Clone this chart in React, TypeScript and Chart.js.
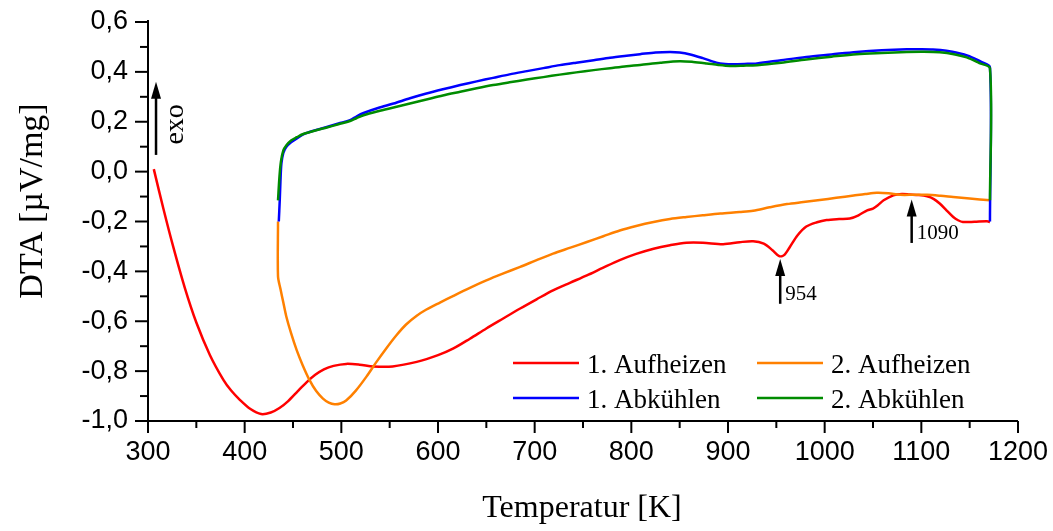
import React, { useEffect, useRef } from "react";
import { Chart, registerables } from "chart.js";

Chart.register(...registerables);

// ---- Data ----
const aufheizen1T = [306, 316, 326, 338, 350, 364, 378, 386, 395, 406, 417, 427, 436, 445, 455, 464, 473, 482, 492, 505, 519, 533, 553, 578, 600, 616, 633, 650, 667, 685, 702, 719, 737, 754, 771, 788, 805, 823, 840, 857, 874, 895, 912, 926, 937, 946, 953, 958, 964, 972, 981, 992, 1002, 1015, 1026, 1035, 1044, 1050, 1055, 1061, 1071, 1080, 1088, 1097, 1106, 1113, 1119, 1126, 1133, 1138, 1143, 1155, 1168, 1171];
const aufheizen1DTA = [0.01, -0.15, -0.30, -0.465, -0.605, -0.735, -0.835, -0.878, -0.915, -0.952, -0.972, -0.966, -0.948, -0.92, -0.88, -0.845, -0.815, -0.793, -0.779, -0.771, -0.774, -0.781, -0.781, -0.763, -0.736, -0.709, -0.67, -0.629, -0.59, -0.549, -0.512, -0.476, -0.445, -0.416, -0.385, -0.355, -0.33, -0.309, -0.295, -0.285, -0.285, -0.291, -0.283, -0.279, -0.289, -0.315, -0.339, -0.335, -0.302, -0.255, -0.22, -0.203, -0.194, -0.19, -0.188, -0.175, -0.155, -0.148, -0.135, -0.115, -0.095, -0.09, -0.092, -0.094, -0.099, -0.11, -0.128, -0.155, -0.182, -0.195, -0.202, -0.201, -0.199, -0.202];

const aufheizen2T = [434.5, 434.5, 437, 440, 443, 448, 454, 460, 467, 474, 481, 487, 493, 499, 505, 515, 526, 536, 547, 557, 567, 578, 588, 602, 616, 633, 650, 667, 685, 702, 719, 737, 754, 771, 788, 805, 823, 840, 857, 874, 892, 912, 926, 943, 961, 978, 995, 1012, 1030, 1042, 1054, 1066, 1078, 1092, 1106, 1120, 1133, 1150, 1171];
const aufheizen2DTA = [-0.2, -0.42, -0.47, -0.525, -0.58, -0.648, -0.718, -0.776, -0.835, -0.88, -0.91, -0.926, -0.933, -0.93, -0.918, -0.878, -0.822, -0.765, -0.706, -0.656, -0.613, -0.578, -0.553, -0.525, -0.498, -0.466, -0.436, -0.409, -0.382, -0.355, -0.329, -0.305, -0.282, -0.259, -0.236, -0.218, -0.202, -0.19, -0.182, -0.175, -0.168, -0.162, -0.157, -0.143, -0.13, -0.122, -0.114, -0.105, -0.096, -0.09, -0.085, -0.087, -0.093, -0.093, -0.093, -0.097, -0.102, -0.108, -0.115];

const abkuehlen1T = [1171, 1171, 1162, 1157, 1148, 1140, 1126, 1112, 1098, 1085, 1059, 1033, 1007, 981, 955, 930, 917, 905, 897, 888, 874, 861, 850, 840, 825, 809, 795, 778, 761, 743, 726, 709, 692, 674, 657, 640, 623, 605, 588, 571, 554, 538, 523, 516, 509, 497, 485, 476, 467, 460, 454, 448, 443, 440, 438, 437, 436.3, 435.3];
const abkuehlen1DTA = [-0.2, 0.418, 0.44, 0.45, 0.465, 0.474, 0.485, 0.49, 0.491, 0.491, 0.487, 0.48, 0.47, 0.46, 0.447, 0.434, 0.432, 0.431, 0.432, 0.437, 0.455, 0.47, 0.478, 0.48, 0.478, 0.471, 0.465, 0.457, 0.447, 0.437, 0.427, 0.415, 0.403, 0.39, 0.376, 0.362, 0.347, 0.33, 0.313, 0.294, 0.273, 0.255, 0.235, 0.222, 0.206, 0.193, 0.179, 0.169, 0.159, 0.148, 0.133, 0.118, 0.099, 0.075, 0.032, -0.04, -0.115, -0.2];

const abkuehlen2T = [1171, 1171, 1160, 1147, 1135, 1119, 1102, 1085, 1059, 1033, 1007, 981, 955, 930, 916, 902, 890, 878, 864, 850, 830, 809, 795, 778, 761, 743, 726, 709, 692, 674, 657, 640, 623, 605, 588, 571, 554, 538, 523, 516, 509, 497, 485, 476, 467, 460, 454, 448, 443, 440, 437.5, 436, 434.5];
const abkuehlen2DTA = [-0.115, 0.414, 0.435, 0.458, 0.47, 0.479, 0.481, 0.48, 0.476, 0.471, 0.461, 0.45, 0.437, 0.427, 0.425, 0.424, 0.428, 0.434, 0.44, 0.443, 0.437, 0.428, 0.423, 0.415, 0.407, 0.398, 0.389, 0.379, 0.369, 0.358, 0.347, 0.334, 0.32, 0.305, 0.289, 0.273, 0.257, 0.242, 0.226, 0.215, 0.203, 0.19, 0.177, 0.168, 0.158, 0.15, 0.138, 0.125, 0.105, 0.085, 0.04, -0.02, -0.115];

const seriesLabels = ["1. Aufheizen", "2. Aufheizen", "1. Abkühlen", "2. Abkühlen"];
const seriesColors = ["#ff0000", "#ff8000", "#0000ff", "#008c00"];

const xTicks = [300, 400, 500, 600, 700, 800, 900, 1000, 1100, 1200];
const xMinorTicks = [350, 450, 550, 650, 750, 850, 950, 1050, 1150];
const yTicks = [-1.0, -0.8, -0.6, -0.4, -0.2, 0.0, 0.2, 0.4, 0.6];
const yMinorTicks = [-0.9, -0.7, -0.5, -0.3, -0.1, 0.1, 0.3, 0.5];

const xTitle = "Temperatur [K]";
const yTitle = "DTA [µV/mg]";

// peak markers (arrow at temperature, from tail value up to tip value)
const peakT = [954, 1090];
const peakLabels = ["954", "1090"];
const peakTipDTA = [-0.35, -0.112];
const peakTailDTA = [-0.53, -0.286];

// exo arrow
const exoT = 308.3;
const exoTipDTA = 0.36;
const exoTailDTA = 0.067;
const exoLabel = "exo";

const toPoints = (xs: number[], ys: number[]) => xs.map((x, i) => ({ x, y: ys[i] }));

function drawArrow(ctx: CanvasRenderingContext2D, x: number, yTail: number, yTip: number) {
  const headLen = 17;
  const headHalf = 5;
  ctx.save();
  ctx.strokeStyle = "#000";
  ctx.fillStyle = "#000";
  ctx.lineWidth = 2.5;
  ctx.beginPath();
  ctx.moveTo(x, yTail);
  ctx.lineTo(x, yTip + headLen - 2);
  ctx.stroke();
  ctx.beginPath();
  ctx.moveTo(x, yTip);
  ctx.lineTo(x - headHalf, yTip + headLen);
  ctx.lineTo(x + headHalf, yTip + headLen);
  ctx.closePath();
  ctx.fill();
  ctx.restore();
}

const decorPlugin = {
  id: "decor",
  afterDraw(chart: any) {
    const ctx: CanvasRenderingContext2D = chart.ctx;
    const xs = chart.scales.x;
    const ys = chart.scales.y;
    const area = chart.chartArea;
    ctx.save();
    // axes lines
    ctx.strokeStyle = "#000";
    ctx.lineWidth = 2;
    ctx.beginPath();
    ctx.moveTo(area.left, area.top - 2);
    ctx.lineTo(area.left, area.bottom);
    ctx.lineTo(area.right, area.bottom);
    ctx.stroke();
    // ticks
    const tick = (vals: number[], len: number, horiz: boolean) => {
      vals.forEach((v) => {
        ctx.beginPath();
        if (horiz) {
          const p = xs.getPixelForValue(v);
          ctx.moveTo(p, area.bottom);
          ctx.lineTo(p, area.bottom + len);
        } else {
          const p = ys.getPixelForValue(v);
          ctx.moveTo(area.left, p);
          ctx.lineTo(area.left - len, p);
        }
        ctx.stroke();
      });
    };
    tick(xTicks, 12, true);
    tick(xMinorTicks, 7, true);
    tick(yTicks, 13, false);
    tick(yMinorTicks, 8, false);

    // axis titles
    ctx.fillStyle = "#000";
    ctx.font = "32px 'Liberation Serif'";
    ctx.textAlign = "center";
    ctx.textBaseline = "alphabetic";
    ctx.fillText(xTitle, (area.left + area.right) / 2 - 1, 517);
    ctx.save();
    ctx.translate(42, 201);
    ctx.rotate(-Math.PI / 2);
    ctx.font = "34px 'Liberation Serif'";
    ctx.fillText(yTitle, 0, 0);
    ctx.restore();

    // exo arrow
    const exX = xs.getPixelForValue(exoT);
    const exTip = ys.getPixelForValue(exoTipDTA);
    const exTail = ys.getPixelForValue(exoTailDTA);
    drawArrow(ctx, exX, exTail, exTip);
    ctx.save();
    ctx.translate(exX + 27, (exTip + exTail) / 2 + 6);
    ctx.rotate(-Math.PI / 2);
    ctx.font = "28px 'Liberation Serif'";
    ctx.textAlign = "center";
    ctx.fillText(exoLabel, 0, 0);
    ctx.restore();

    // peak arrows
    peakT.forEach((t, i) => {
      const px = xs.getPixelForValue(t);
      const tip = ys.getPixelForValue(peakTipDTA[i]);
      const tail = ys.getPixelForValue(peakTailDTA[i]);
      drawArrow(ctx, px, tail, tip);
      ctx.font = "21px 'Liberation Serif'";
      ctx.textAlign = "left";
      ctx.fillText(peakLabels[i], px + 5, tail - 4);
    });

    // legend
    const ds = chart.data.datasets;
    const cols = [513, 757];
    const rows = [363, 398];
    ctx.font = "27px 'Liberation Serif'";
    ctx.textAlign = "left";
    ctx.textBaseline = "alphabetic";
    ds.forEach((d: any, i: number) => {
      const cx = cols[i % 2];
      const cy = rows[Math.floor(i / 2)];
      ctx.strokeStyle = d.borderColor;
      ctx.lineWidth = 2.5;
      ctx.beginPath();
      ctx.moveTo(cx, cy);
      ctx.lineTo(cx + 66, cy);
      ctx.stroke();
      ctx.fillStyle = "#000";
      ctx.fillText(d.label, cx + 74, cy + 10);
    });
    ctx.restore();
  },
};

export default function App() {
  const canvasRef = useRef<HTMLCanvasElement | null>(null);

  useEffect(() => {
    if (!canvasRef.current) return;
    const seriesX = [aufheizen1T, aufheizen2T, abkuehlen1T, abkuehlen2T];
    const seriesY = [aufheizen1DTA, aufheizen2DTA, abkuehlen1DTA, abkuehlen2DTA];
    const orders = [4, 3, 2, 1];
    const zeroPad = (s: any) => {
      s.paddingTop = 0;
      s.paddingBottom = 0;
      s.paddingLeft = 0;
      s.paddingRight = 0;
    };
    const chart = new Chart(canvasRef.current, {
      type: "line",
      data: {
        datasets: seriesLabels.map((label, i) => ({
          label,
          data: toPoints(seriesX[i], seriesY[i]),
          borderColor: seriesColors[i],
          backgroundColor: seriesColors[i],
          borderWidth: 2.5,
          pointRadius: 0,
          tension: 0.3,
          fill: false,
          order: orders[i],
        })),
      },
      options: {
        animation: false,
        responsive: false,
        maintainAspectRatio: false,
        devicePixelRatio: 1,
        layout: { padding: { left: 0, right: 35, top: 22, bottom: 0 } },
        plugins: { legend: { display: false }, tooltip: { enabled: false } },
        scales: {
          x: {
            type: "linear",
            min: 300,
            max: 1200,
            afterBuildTicks: (s: any) => {
              s.ticks = xTicks.map((v) => ({ value: v }));
            },
            afterFit: (s: any) => {
              s.height = 110;
              zeroPad(s);
            },
            grid: { display: false, drawTicks: false },
            border: { display: false },
            ticks: {
              padding: 15,
              maxRotation: 0,
              autoSkip: false,
              color: "#000",
              font: { family: "'Liberation Sans'", size: 27 },
              callback: (v: any) => String(v),
            },
          },
          y: {
            type: "linear",
            min: -1.0,
            max: 0.6,
            afterBuildTicks: (s: any) => {
              s.ticks = yTicks.map((v) => ({ value: v }));
            },
            afterFit: (s: any) => {
              s.width = 148;
              zeroPad(s);
            },
            grid: { display: false, drawTicks: false },
            border: { display: false },
            ticks: {
              padding: 20,
              autoSkip: false,
              color: "#000",
              font: { family: "'Liberation Sans'", size: 27 },
              callback: (v: any) => Number(v).toFixed(1).replace(".", ","),
            },
          },
        },
      },
      plugins: [decorPlugin],
    });
    return () => chart.destroy();
  }, []);

  return (
    <div style={{ position: "fixed", left: 0, top: 0, width: 1053, height: 531, background: "#fff" }}>
      <canvas ref={canvasRef} width={1053} height={531} style={{ display: "block" }} />
    </div>
  );
}
